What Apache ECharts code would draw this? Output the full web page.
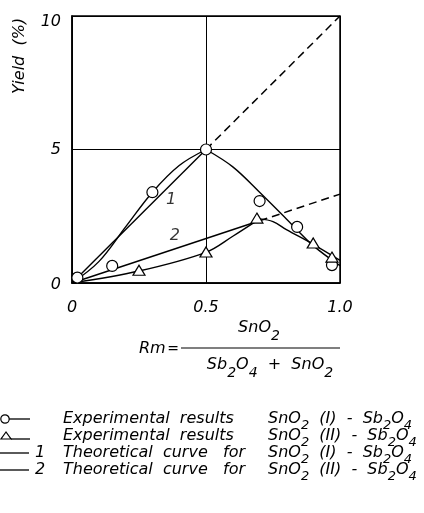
<!DOCTYPE html>
<html><head><meta charset="utf-8">
<script src="https://cdn.jsdelivr.net/npm/echarts@6/dist/echarts.min.js"></script>
<style>html,body{margin:0;padding:0;background:#fff}#c{width:424px;height:513px}</style>
</head><body><div id="c"></div>
<script>
// ---- data ----
const xTickLabels = {0: '0', 0.5: '0.5', 1: '1.0'};
const yTickLabels = {0: '0', 5: '5', 10: '10'};
const expI = [[0.02,0.2],[0.15,0.64],[0.3,3.4],[0.5,5.0],[0.7,3.07],[0.84,2.1],[0.97,0.67]];
const expII = [[0.25,0.48],[0.5,1.16],[0.69,2.43],[0.9,1.5],[0.97,0.97]];
const theory1Rise = [[0,0],[0.5,5]];
const theory1Ext = [[0.5,5],[1,10]];
const theory1Fall = [[0.5,5],[0.6,4.35],[0.7,3.4],[0.8,2.4],[0.9,1.4],[1.0,0.65]];
const fitI = [[0,0],[0.1,0.8],[0.2,2.1],[0.3,3.4],[0.4,4.4],[0.5,5]];
const theory2Rise = [[0,0],[0.7,2.33]];
const theory2Ext = [[0.7,2.33],[1,3.33]];
const fitIIRise = [[0,0],[0.25,0.45],[0.5,1.15],[0.6,1.75],[0.7,2.4]];
const fitIIFall = [[0.7,2.4],[0.75,2.3],[0.8,2.0],[0.9,1.45],[1.0,0.85]];
const curveLabels = [[0.37,3.1,'1'],[0.384,1.76,'2']];
const yAxisTitle = 'Yield  (%)';
const legendLabelsA = ['Experimental  results', 'Experimental  results', 'Theoretical  curve   for', 'Theoretical  curve   for'];
const legendLabelsB = ['SnO{s|2}  (I)  -  Sb{s|2}O{s|4}', 'SnO{s|2}  (II)  -  Sb{s|2}O{s|4}', 'SnO{s|2}  (I)  -  Sb{s|2}O{s|4}', 'SnO{s|2}  (II)  -  Sb{s|2}O{s|4}'];
const legendNums = ['', '', '1', '2'];

// ---- styles ----
const FF = 'DejaVu Sans';
const ink = '#000';
const lw = 1.4;
const richSub = (fs, subFs, lineH) => ({
  n: {fontSize: fs, fontFamily: FF, fontStyle: 'italic', height: 16, lineHeight: 16, verticalAlign: 'top', color: ink},
  s: {fontSize: subFs, fontFamily: FF, fontStyle: 'italic', height: 12, lineHeight: lineH, verticalAlign: 'bottom', color: ink}
});
function wrapN(t){
  return t.split(/(\{s\|[^}]*\})/).map(p => p.startsWith('{s|') ? p : (p ? '{n|' + p + '}' : '')).join('');
}

const lineBase = (data, extra) => Object.assign({
  type: 'line', data, symbol: 'none', silent: true, clip: false,
  lineStyle: {color: ink, width: lw}
}, extra || {});

const chart = echarts.init(document.getElementById('c'), null, {renderer: 'canvas'});

const rowsY = [419, 436, 453, 470];
const graphic = [];
const plainFont = 'italic 16px "DejaVu Sans"';
graphic.push({type: 'text', x: 20, y: 56, rotation: Math.PI/2,
  style: {text: yAxisTitle, font: plainFont, fill: ink, align: 'center', verticalAlign: 'middle', textAlign: 'center', textVerticalAlign: 'middle'}});
// formula
graphic.push({type: 'text', x: 139, y: 349,
  style: {text: 'Rm', font: plainFont, fill: ink, align: 'left', verticalAlign: 'middle', textAlign: 'left', textVerticalAlign: 'middle'}});
graphic.push({type: 'text', x: 173, y: 349,
  style: {text: '=', font: 'italic 14px "DejaVu Sans"', fill: ink, align: 'center', verticalAlign: 'middle', textAlign: 'center', textVerticalAlign: 'middle'}});
graphic.push({type: 'line', shape: {x1: 181, y1: 348, x2: 340, y2: 348}, style: {stroke: ink, lineWidth: 1.2}});
graphic.push({type: 'text', x: 259, y: 320,
  style: {text: wrapN('SnO{s|2}'), rich: richSub(16, 14, 22), align: 'center', verticalAlign: 'top', textAlign: 'center', textVerticalAlign: 'top'}});
graphic.push({type: 'text', x: 270, y: 357,
  style: {text: wrapN('Sb{s|2}O{s|4}  +  SnO{s|2}'), rich: richSub(16, 14, 22), align: 'center', verticalAlign: 'top', textAlign: 'center', textVerticalAlign: 'top'}});
// legend
for (let i = 0; i < 4; i++) {
  const y = rowsY[i];
  if (i === 0) {
    graphic.push({type: 'line', shape: {x1: 9, y1: y, x2: 30, y2: y}, style: {stroke: ink, lineWidth: 1.3}});
    graphic.push({type: 'circle', shape: {cx: 5, cy: y, r: 4.2}, style: {fill: '#fff', stroke: ink, lineWidth: 1.2}});
  } else if (i === 1) {
    graphic.push({type: 'line', shape: {x1: 11, y1: y + 3, x2: 30, y2: y + 3}, style: {stroke: ink, lineWidth: 1.3}});
    graphic.push({type: 'polygon', shape: {points: [[6, y - 4], [1, y + 3], [11, y + 3]]}, style: {fill: '#fff', stroke: ink, lineWidth: 1.2}});
  } else {
    graphic.push({type: 'line', shape: {x1: 0, y1: y, x2: 29, y2: y}, style: {stroke: ink, lineWidth: 1.3}});
    graphic.push({type: 'text', x: 35, y: y,
      style: {text: legendNums[i], font: plainFont, fill: ink, align: 'left', verticalAlign: 'middle', textAlign: 'left', textVerticalAlign: 'middle'}});
  }
  graphic.push({type: 'text', x: 63, y: y,
    style: {text: legendLabelsA[i], font: plainFont, fill: ink, align: 'left', verticalAlign: 'middle', textAlign: 'left', textVerticalAlign: 'middle'}});
  graphic.push({type: 'text', x: 268, y: y - 8,
    style: {text: wrapN(legendLabelsB[i]), rich: richSub(16, 13, 21), align: 'left', verticalAlign: 'top', textAlign: 'left', textVerticalAlign: 'top'}});
}

chart.setOption({
  animation: false,
  backgroundColor: '#fff',
  grid: {left: 72, right: 84, top: 16, bottom: 230, show: true, borderColor: ink, borderWidth: 1.5, backgroundColor: 'transparent'},
  xAxis: {
    type: 'value', min: 0, max: 1, interval: 0.5,
    axisLine: {show: true, lineStyle: {color: ink, width: 1.5}},
    axisTick: {show: false},
    splitLine: {show: true, lineStyle: {color: ink, width: 1}},
    axisLabel: {margin: 17, color: ink, fontSize: 16, fontStyle: 'italic', fontFamily: FF,
      formatter: v => xTickLabels[v] !== undefined ? xTickLabels[v] : ''}
  },
  yAxis: {
    type: 'value', min: 0, max: 10, interval: 5,
    axisLine: {show: true, lineStyle: {color: ink, width: 1.5}},
    axisTick: {show: false},
    splitLine: {show: true, lineStyle: {color: ink, width: 1}},
    axisLabel: {margin: 11, color: ink, fontSize: 16, fontStyle: 'italic', fontFamily: FF,
      formatter: v => v === 10 ? '{t|' + yTickLabels[v] + '}' : v === 0 ? '{b|' + yTickLabels[v] + '}' : (yTickLabels[v] || ''),
      rich: {t: {fontSize: 16, fontStyle: 'italic', fontFamily: FF, color: ink, padding: [12, 0, 0, 0]},
             b: {fontSize: 16, fontStyle: 'italic', fontFamily: FF, color: ink, padding: [4, 0, 0, 0]}}}
  },
  graphic: graphic,
  series: [
    lineBase(theory1Rise, {name: 'Theoretical 1'}),
    lineBase(theory1Ext, {name: 'Theoretical 1 (extension)', lineStyle: {color: ink, width: 1.5, type: [8, 5]}}),
    lineBase(theory1Fall, {name: 'Curve 1 descending', smooth: 0.35}),
    lineBase(fitI, {name: 'Fit I', smooth: 0.35}),
    lineBase(theory2Rise, {name: 'Theoretical 2'}),
    lineBase(theory2Ext, {name: 'Theoretical 2 (extension)', lineStyle: {color: ink, width: 1.5, type: [8, 5]}}),
    lineBase(fitIIRise, {name: 'Fit II', smooth: 0.35}),
    lineBase(fitIIFall, {name: 'Curve 2 descending', smooth: 0.35}),
    {type: 'scatter', name: 'Experimental SnO2 (I)', data: expI, symbol: 'circle', symbolSize: 11, clip: false,
      itemStyle: {color: '#fff', borderColor: ink, borderWidth: 1.2, opacity: 1}, z: 5},
    {type: 'scatter', name: 'Experimental SnO2 (II)', data: expII, symbol: 'triangle', symbolSize: [12, 10], clip: false,
      itemStyle: {color: '#fff', borderColor: ink, borderWidth: 1.2, opacity: 1}, z: 5},
    {type: 'scatter', name: 'Curve labels', data: curveLabels, symbol: 'circle', symbolSize: 1, silent: true,
      itemStyle: {color: 'rgba(0,0,0,0)'},
      label: {show: true, position: 'inside', formatter: p => p.data[2], color: ink, fontSize: 16, fontStyle: 'italic', fontFamily: FF}}
  ]
});
</script>
</body></html>
